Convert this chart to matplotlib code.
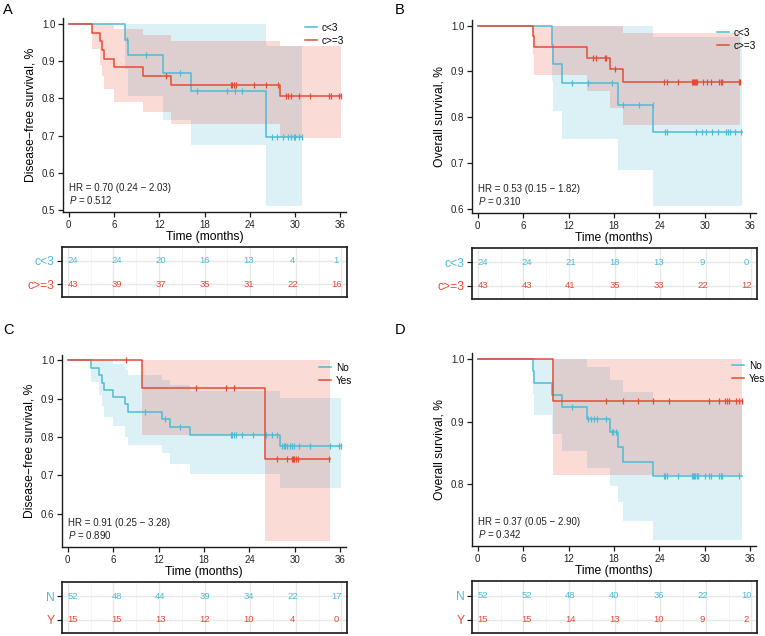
import numpy as np
import matplotlib
matplotlib.use("Agg")
import matplotlib.pyplot as plt

plt.rcParams['font.family'] = ['Liberation Sans', 'DejaVu Sans']
plt.rcParams['mathtext.fontset'] = 'custom'
plt.rcParams['mathtext.rm'] = 'Liberation Sans'
plt.rcParams['mathtext.it'] = 'Liberation Sans:italic'

BLUE = '#4DBBD5'
RED = '#E64B35'
W, H = 765, 636

months = [0, 6, 12, 18, 24, 30, 36]

# ---- A: disease-free survival, c<3 vs c>=3
a_labels = ['c<3', 'c>=3']
a_blue_t = [0, 7.5, 7.9, 12.5, 16.2, 26.1]
a_blue_s = [1, 0.958, 0.917, 0.869, 0.821, 0.695]
a_blue_lo = [1, 0.88, 0.807, 0.743, 0.676, 0.512]
a_blue_hi = [1, 1, 1, 1, 1, 0.94]
a_blue_end = 30.9
a_blue_cens = [7.7, 10.2, 14.8, 17.0, 21.0, 22.1, 23.0, 27.0, 27.6, 28.4, 29.0,
               29.5, 29.8, 30.0, 30.5, 30.9]
a_red_t = [0, 3.1, 4.1, 4.4, 4.7, 6.0, 9.8, 13.5, 28.0]
a_red_s = [1, 0.977, 0.953, 0.930, 0.907, 0.884, 0.860, 0.836, 0.806]
a_red_lo = [1, 0.934, 0.89, 0.86, 0.824, 0.79, 0.763, 0.732, 0.693]
a_red_hi = [1, 1, 1, 1, 1, 0.987, 0.971, 0.955, 0.94]
a_red_end = 36.1
a_red_cens = [12.9, 21.5, 21.7, 21.9, 22.2, 24.5, 26.2, 27.8, 28.8, 29.1, 29.4,
              30.5, 32.0, 34.5, 34.7, 35.8, 36.1]
a_risk_blue = [24, 24, 20, 16, 13, 4, 1]
a_risk_red = [43, 39, 37, 35, 31, 22, 16]
a_hr = 'HR = 0.70 (0.24 \u2212 2.03)'
a_p = '0.512'

# ---- B: overall survival, c<3 vs c>=3
b_labels = ['c<3', 'c>=3']
b_blue_t = [0, 9.8, 10.0, 11.1, 18.5, 23.2]
b_blue_s = [1, 0.958, 0.917, 0.875, 0.826, 0.767]
b_blue_lo = [1, 0.88, 0.813, 0.753, 0.684, 0.606]
b_blue_hi = [1, 1, 1, 1, 1, 0.975]
b_blue_end = 34.9
b_blue_cens = [12.4, 14.6, 17.8, 19.2, 21.3, 23.1, 24.8, 25.0, 28.8, 29.6, 30.2,
               30.9, 31.7, 32.8, 33.0, 33.3, 34.0, 34.8]
b_red_t = [0, 7.3, 7.5, 14.4, 17.5, 19.2]
b_red_s = [1, 0.977, 0.953, 0.930, 0.905, 0.877]
b_red_lo = [1, 0.935, 0.893, 0.857, 0.82, 0.782]
b_red_hi = [1, 1, 1, 1, 0.998, 0.983]
b_red_end = 34.7
b_red_cens = [15.2, 15.6, 16.8, 17.0, 18.1, 24.6, 25.0, 26.4, 28.3, 28.4, 28.6,
              28.7, 28.8, 29.0, 29.7, 30.3, 30.8, 31.8, 32.1, 32.3, 34.5, 34.7]
b_risk_blue = [24, 24, 21, 18, 13, 9, 0]
b_risk_red = [43, 43, 41, 35, 33, 22, 12]
b_hr = 'HR = 0.53 (0.15 \u2212 1.82)'
b_p = '0.310'

# ---- C: disease-free survival, No vs Yes
c_labels = ['No', 'Yes']
c_blue_t = [0, 3.1, 4.2, 4.5, 4.75, 6.0, 7.6, 7.9, 12.5, 13.5, 16.2, 28.1]
c_blue_s = [1, 0.981, 0.962, 0.942, 0.923, 0.904, 0.885, 0.865, 0.846, 0.826, 0.805, 0.777]
c_blue_lo = [1, 0.944, 0.91, 0.88, 0.853, 0.83, 0.80, 0.778, 0.757, 0.73, 0.703, 0.668]
c_blue_hi = [1, 1, 1, 1, 1, 0.99, 0.975, 0.962, 0.949, 0.937, 0.921, 0.903]
c_blue_end = 36.1
c_blue_cens = [10.2, 12.9, 14.8, 21.5, 21.7, 21.9, 22.2, 23.0, 24.5, 26.2, 27.0,
               27.6, 28.3, 28.5, 28.7, 29.0, 29.3, 29.6, 29.9, 30.5, 32.0, 34.7,
               35.8, 36.1]
c_red_t = [0, 9.8, 26.1]
c_red_s = [1, 0.929, 0.743]
c_red_lo = [1, 0.804, 0.528]
c_red_hi = [1, 1, 1]
c_red_end = 34.6
c_red_cens = [7.7, 17.0, 20.9, 21.9, 27.7, 29.0, 29.6, 29.8, 29.9, 30.2, 30.4, 34.5]
c_risk_blue = [52, 48, 44, 39, 34, 22, 17]
c_risk_red = [15, 15, 13, 12, 10, 4, 0]
c_hr = 'HR = 0.91 (0.25 \u2212 3.28)'
c_p = '0.890'

# ---- D: overall survival, No vs Yes
d_labels = ['No', 'Yes']
d_blue_t = [0, 7.3, 7.5, 9.8, 11.1, 14.4, 17.5, 18.5, 19.2, 23.2]
d_blue_s = [1, 0.981, 0.962, 0.942, 0.923, 0.904, 0.884, 0.860, 0.836, 0.814]
d_blue_lo = [1, 0.944, 0.91, 0.88, 0.853, 0.826, 0.797, 0.772, 0.741, 0.711]
d_blue_hi = [1, 1, 1, 1, 1, 0.987, 0.966, 0.966, 0.947, 0.933]
d_blue_end = 34.9
d_blue_cens = [12.4, 14.6, 14.9, 15.3, 15.8, 17.0, 17.7, 17.9, 18.2, 24.6, 24.8,
               25.0, 26.4, 28.3, 28.4, 28.6, 28.7, 28.9, 29.1, 30.0, 30.5, 30.8,
               31.8, 32.1, 32.3, 34.5]
d_red_t = [0, 10.0]
d_red_s = [1, 0.933]
d_red_lo = [1, 0.815]
d_red_hi = [1, 1]
d_red_end = 34.9
d_red_cens = [16.9, 19.2, 21.2, 23.1, 25.2, 30.6, 31.8, 32.6, 32.9, 33.2, 34.1, 34.5, 34.9]
d_risk_blue = [52, 52, 48, 40, 36, 22, 10]
d_risk_red = [15, 15, 14, 13, 10, 9, 2]
d_hr = 'HR = 0.37 (0.05 \u2212 2.90)'
d_p = '0.342'


def px(l, r, t, b):
    return [l / W, 1 - b / H, (r - l) / W, (b - t) / H]


def km(ax, t, s, lo, hi, end, cens, color, label):
    x = t + [end]
    ax.fill_between(x, lo + [lo[-1]], hi + [hi[-1]], step='post',
                    color=color, alpha=0.2, lw=0)
    ax.step(x, s + [s[-1]], where='post', color=color, lw=1.1, label=label)
    idx = np.searchsorted(t, cens, side='right') - 1
    ax.plot(cens, np.array(s)[idx], ls='none', marker='|', ms=4.5, mew=0.9, color=color)


def panel(letter, lpos, box, tbox, ylim, yticks, ylabel, blue, red, labels, row_names,
          risk_blue, risk_red, hr, p, leg_xy):
    fig.text(lpos[0] / W, 1 - lpos[1] / H, letter, fontsize=10.5, va='top', ha='left')
    ax = fig.add_axes(px(*box))
    km(ax, *blue, BLUE, labels[0])
    km(ax, *red, RED, labels[1])
    ax.set_xlim(-0.75, 36.75)
    ax.set_ylim(*ylim)
    ax.set_xticks(months)
    ax.set_yticks(yticks)
    ax.yaxis.set_major_formatter('{x:.1f}')
    for sp in ['top', 'right']:
        ax.spines[sp].set_visible(False)
    for sp in ['left', 'bottom']:
        ax.spines[sp].set_linewidth(1.0)
        ax.spines[sp].set_color('#1a1a1a')
    ax.tick_params(length=3.5, width=0.9, labelsize=7, pad=2, color='#1a1a1a',
                   labelcolor='#222222')
    ax.set_xlabel('Time (months)', fontsize=8.7, labelpad=1)
    ax.set_ylabel(ylabel, fontsize=8.7, labelpad=4)
    ax.text(0, 0.125, hr, transform=ax.get_xaxis_transform(), fontsize=7,
            va='center', ha='left', color='#222222')
    ax.text(0, 0.06, r'$\it{P}$ = ' + p, transform=ax.get_xaxis_transform(),
            fontsize=7, va='center', ha='left', color='#222222')
    ax.legend(loc='upper left', bbox_to_anchor=leg_xy, frameon=False, fontsize=7.2,
              handlelength=1.2, handletextpad=0.5, labelspacing=0.3,
              borderpad=0, borderaxespad=0)

    # risk table: grid on the plot's time scale, numbers on their own slightly wider scale
    tb = fig.add_axes(px(*tbox))
    tb.set_xlim(-0.75, 36.75)
    tb.set_ylim(0.45, 2.6)
    tb.set_xticks(months)
    tb.set_xticks(range(3, 36, 6), minor=True)
    tb.set_yticks([2, 1])
    tb.set_yticklabels(row_names)
    tb.set_axisbelow(True)
    tb.grid(which='major', color='#E8E8E8', lw=1.0)
    tb.grid(which='minor', axis='x', color='#F2F2F2', lw=0.6)
    tb.tick_params(axis='x', which='both', length=0, labelbottom=False)
    tb.tick_params(axis='y', length=3.5, width=0.9, labelsize=8.7, pad=2, color='#1a1a1a')
    for lab, c in zip(tb.get_yticklabels(), [BLUE, RED]):
        lab.set_color(c)
    for sp in tb.spines.values():
        sp.set_linewidth(1.2)
        sp.set_color('#1a1a1a')
    tn = tb.twiny()
    tn.set_xlim(-1.45, 37.45)
    tn.set_xticks([])
    for sp in tn.spines.values():
        sp.set_visible(False)
    for row, c, y in zip([risk_blue, risk_red], [BLUE, RED], [2, 1]):
        for m, n in zip(months, row):
            tn.text(m, y, str(n), ha='center', va='center', color=c, fontsize=6.8)


fig = plt.figure(figsize=(W / 100, H / 100), dpi=100)

panel('A', (3, 3), (63, 346, 18, 212), (62, 347, 247, 297), (0.4946, 1.016),
      [0.5, 0.6, 0.7, 0.8, 0.9, 1.0], 'Disease\u2212free survival, %',
      (a_blue_t, a_blue_s, a_blue_lo, a_blue_hi, a_blue_end, a_blue_cens),
      (a_red_t, a_red_s, a_red_lo, a_red_hi, a_red_end, a_red_cens),
      a_labels, a_labels, a_risk_blue, a_risk_red, a_hr, a_p, (0.855, 0.975))

panel('B', (395, 3), (472, 756, 20, 213), (472, 757, 248, 299), (0.591, 1.012),
      [0.6, 0.7, 0.8, 0.9, 1.0], 'Overall survival, %',
      (b_blue_t, b_blue_s, b_blue_lo, b_blue_hi, b_blue_end, b_blue_cens),
      (b_red_t, b_red_s, b_red_lo, b_red_hi, b_red_end, b_red_cens),
      b_labels, b_labels, b_risk_blue, b_risk_red, b_hr, b_p, (0.862, 0.96))

panel('C', (3, 323), (62, 346, 355, 547), (62, 347, 582, 633), (0.513, 1.014),
      [0.6, 0.7, 0.8, 0.9, 1.0], 'Disease\u2212free survival, %',
      (c_blue_t, c_blue_s, c_blue_lo, c_blue_hi, c_blue_end, c_blue_cens),
      (c_red_t, c_red_s, c_red_lo, c_red_hi, c_red_end, c_red_cens),
      c_labels, ['N', 'Y'], c_risk_blue, c_risk_red, c_hr, c_p, (0.905, 0.96))

panel('D', (395, 323), (472, 756, 353, 546), (472, 757, 581, 633), (0.702, 1.009),
      [0.8, 0.9, 1.0], 'Overall survival, %',
      (d_blue_t, d_blue_s, d_blue_lo, d_blue_hi, d_blue_end, d_blue_cens),
      (d_red_t, d_red_s, d_red_lo, d_red_hi, d_red_end, d_red_cens),
      d_labels, ['N', 'Y'], d_risk_blue, d_risk_red, d_hr, d_p, (0.915, 0.96))

fig.savefig('out.png', dpi=100)
